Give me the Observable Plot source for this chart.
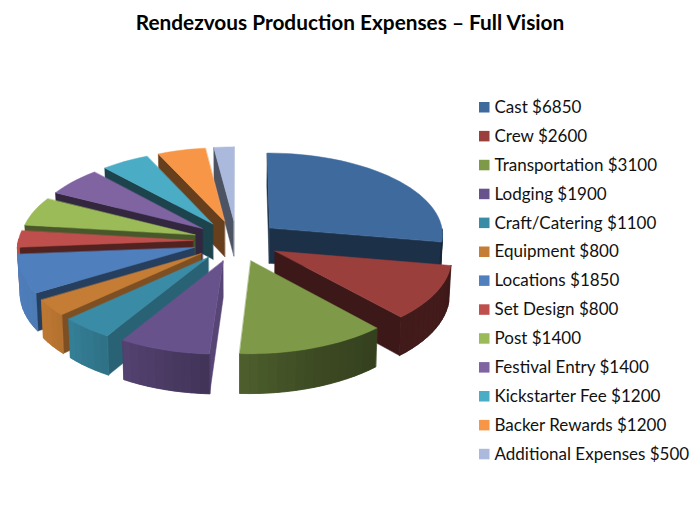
<!DOCTYPE html>
<html>
<head>
<meta charset="utf-8">
<script src="https://cdn.jsdelivr.net/npm/d3@7"></script>
<script src="https://cdn.jsdelivr.net/npm/@observablehq/plot@0.6"></script>
<style>html,body{margin:0;padding:0;background:#fff}svg{display:block}</style>
</head>
<body>
<div id="chart"></div>
<script>
const titleText = "Rendezvous Production Expenses – Full Vision";
const categories = ["Cast","Crew","Transportation","Lodging","Craft/Catering","Equipment","Locations","Set Design","Post","Festival Entry","Kickstarter Fee","Backer Rewards","Additional Expenses"];
const amounts = [6850,2600,3100,1900,1100,800,1850,800,1400,1400,1200,1200,500];
const palette = ["#3E6A9E","#9B3F3D","#7E9A48","#68528C","#3A8CA6","#C57D35","#4F7FBC","#BE4F4D","#9BBB59","#8064A2","#4BACC6","#F79646","#AAB9DC"];

// Pie camera
const cx = 236, cy = 240.4, radius = 174.5, explode = 43.7, depth = 36, tilt = 0.4728, persp = 0.000447, shear = 0.014;
const toRad = d => d * Math.PI / 180;
function project(X, Y, down) {
  const w = 1 + persp * Y;
  const squeeze = 1 - 0.01 * down;
  return [cx + ((X + shear * Math.min(Y, 0)) / w) * squeeze, cy - (Y * tilt) / w + (down * depth) / w];
}
// Shading of the walls by the compass direction they face
const outerShade = d3.scaleLinear().domain([90,120,138,160,180,210,225,240,265,360]).range([.38,.43,.42,.48,.6,.8,.9,.97,1,1]).clamp(true);
const sideShade = d3.scaleLinear().domain([90,120,136,148,175,187,207,228,245,263,360]).range([.85,.7,.64,.5,.43,.47,.39,.39,.42,.45,.45]).clamp(true);
const shaded = (c, f) => { const k = d3.rgb(c); return d3.rgb(k.r*f, k.g*f, k.b*f).formatHex(); };

const total = d3.sum(amounts);
let running = 0;
const slices = categories.map((name, i) => {
  const a0 = running / total * 360;
  running += amounts[i];
  const a1 = running / total * 360;
  return {name, i, a0, a1, mid: (a0 + a1) / 2};
});
const ordered = slices.slice().sort((p, q) => Math.cos(toRad(q.mid)) - Math.cos(toRad(p.mid)));

const vertices = [];
let polyId = 0;
function addPoly(points, color) {
  const id = polyId++;
  for (const [x, y] of points) vertices.push({id, x, y, color});
}
const signedArea = pts => d3.polygonArea(pts);

for (const s of ordered) {
  const base = palette[s.i];
  const ex = explode * Math.sin(toRad(s.mid)), ey = explode * Math.cos(toRad(s.mid));
  const rim = (a, down) => project(ex + radius * Math.sin(toRad(a)), ey + radius * Math.cos(toRad(a)), down);
  const apex = down => project(ex, ey, down);
  const startQuad = [apex(0), rim(s.a0, 0), rim(s.a0, 1), apex(1)];
  const endQuad = [apex(0), apex(1), rim(s.a1, 1), rim(s.a1, 0)];
  if (signedArea(startQuad) > 0) addPoly(startQuad, shaded(base, sideShade((s.a0 + 270) % 360)));
  if (signedArea(endQuad) > 0) addPoly(endQuad, shaded(base, sideShade((s.a1 + 90) % 360)));
  // outer wall: an underlay, then bands that each overlap the next
  const steps = Math.max(2, Math.ceil((s.a1 - s.a0) / 3));
  const da = (s.a1 - s.a0) / steps;
  const angles = d3.range(steps + 1).map(k => s.a0 + k * da).filter(a => Math.cos(toRad(a)) < 0.02);
  if (angles.length > 1) {
    addPoly([...angles.map(a => rim(a, 0)), ...angles.slice().reverse().map(a => rim(a, 1))],
      shaded(base, outerShade(d3.mean(angles))));
    for (let k = 0; k + 1 < angles.length; k++) {
      const p = angles[k], q = angles[k + 1], m = (p + q) / 2;
      addPoly([rim(p,0), rim(q,0), rim(q,1), rim(p,1)], shaded(base, outerShade(m)));
    }
  }
  const top = [apex(0)];
  for (let k = 0; k <= steps; k++) top.push(rim(s.a0 + k * da, 0));
  addPoly(top, base);
}

// Legend rows
const legendTop = 107, legendStep = 28.9;
const legend = categories.map((name, i) => ({
  label: `${name} $${amounts[i]}`,
  y: legendTop + i * legendStep,
  color: palette[i]
}));

const plot = Plot.plot({
  width: 700, height: 525, margin: 0,
  x: {domain: [0, 700], range: [0, 700], axis: null},
  y: {domain: [0, 525], range: [0, 525], axis: null},
  color: {type: "identity"},
  style: {fontFamily: "Lato, sans-serif", background: "#fff"},
  marks: [
    Plot.line(vertices, {x: "x", y: "y", z: "id", fill: "color", stroke: "color", strokeWidth: 0.5, curve: "linear-closed"}),
    Plot.rect(legend, {x1: () => 479, x2: () => 489.5, y1: d => d.y - 5, y2: d => d.y + 5.5, fill: "color"}),
    Plot.text(legend, {x: () => 494, y: "y", text: "label", textAnchor: "start", fontSize: 17, fill: "#111"}),
    Plot.text([titleText], {x: () => 349.5, y: () => 23, text: d => d, fontSize: 20.8, fontWeight: 700, fill: "#000"})
  ]
});
document.getElementById("chart").append(plot);
</script>
</body>
</html>
